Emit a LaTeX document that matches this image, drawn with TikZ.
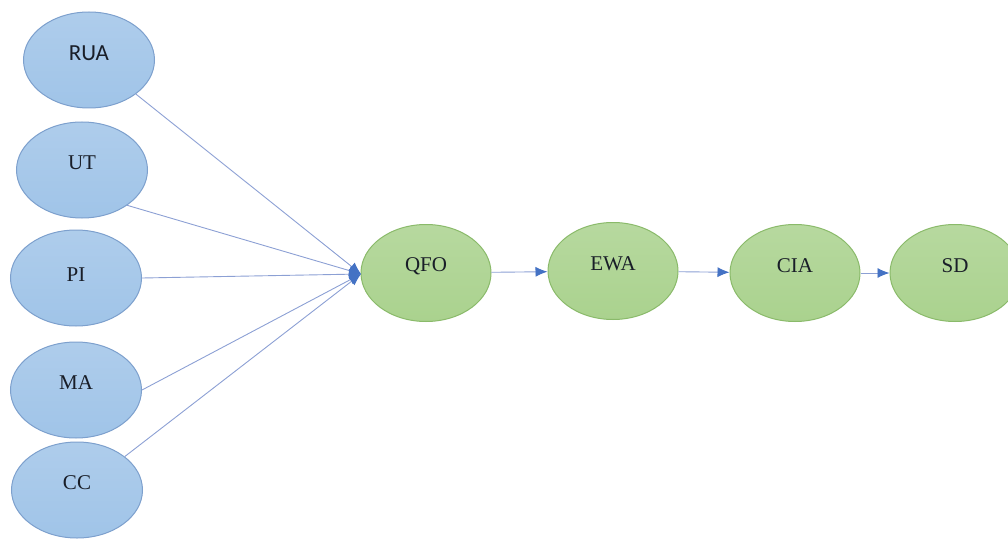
\documentclass[tikz,border=0pt]{standalone}
\usepackage{fontspec}
\setmainfont{Liberation Serif}
\newfontfamily\calib{Carlito}
\usetikzlibrary{arrows.meta,shapes.geometric}
\definecolor{bfill}{RGB}{160,196,232}
\definecolor{bdraw}{RGB}{125,160,205}
\definecolor{gfill}{RGB}{170,210,142}
\definecolor{gdraw}{RGB}{138,186,106}
\definecolor{lcol}{RGB}{140,160,212}
\definecolor{tipc}{RGB}{68,114,196}
\definecolor{txt}{RGB}{25,30,40}
\tikzset{
  lbl/.style={font=\fontsize{21}{23}\selectfont, text=txt, inner sep=0pt, yshift=7pt},
  bell/.style={ellipse, draw=bdraw, line width=1pt, top color=bfill!85!white, bottom color=bfill, minimum width=131pt, minimum height=96pt, inner sep=0pt, label={[lbl]center:#1}},
  gell/.style={ellipse, draw=gdraw, line width=1pt, top color=gfill!85!white, bottom color=gfill, minimum width=130pt, minimum height=97pt, inner sep=0pt, label={[lbl]center:#1}},
  conn/.style={draw=lcol, line width=0.9pt, -{Latex[length=12pt,width=10pt,fill=tipc,color=tipc]}},
}
\begin{document}
\begin{tikzpicture}[x=1pt,y=-1pt]
\useasboundingbox (0,0) rectangle (1008,540);
\node[ellipse, draw=bdraw, line width=1pt, top color=bfill!85!white, bottom color=bfill, minimum width=131pt, minimum height=96pt, inner sep=0pt, label={[lbl,font=\calib\fontsize{23}{25}\selectfont]center:RUA}] (rua) at (89,60) {};
\node[bell=UT] (ut) at (82,170) {};
\node[ellipse, draw=bdraw, line width=1pt, top color=bfill!85!white, bottom color=bfill, minimum width=131pt, minimum height=96pt, inner sep=0pt, label={[lbl,yshift=-4pt]center:PI}] (pi) at (76,278) {};
\node[bell=MA] (ma) at (76,390) {};
\node[bell=CC] (cc) at (77,490) {};
\node[gell=QFO] (qfo) at (426,273) {};
\node[gell=EWA] (ewa) at (613,271) {};
\node[gell=CIA] (cia) at (795,273) {};
\node[gell=SD] (sd) at (955,273) {};
\coordinate (tip) at (361,274);
\draw[conn] (rua.-36) -- (tip);
\draw[conn] (ut.-38) -- (tip);
\draw[conn] (pi.0) -- (tip);
\draw[conn] (ma.0) -- (tip);
\draw[conn] (cc.35) -- (tip);
\draw[conn] (qfo) -- (ewa);
\draw[conn] (ewa) -- (cia);
\draw[conn] (cia) -- (sd);
\end{tikzpicture}
\end{document}
